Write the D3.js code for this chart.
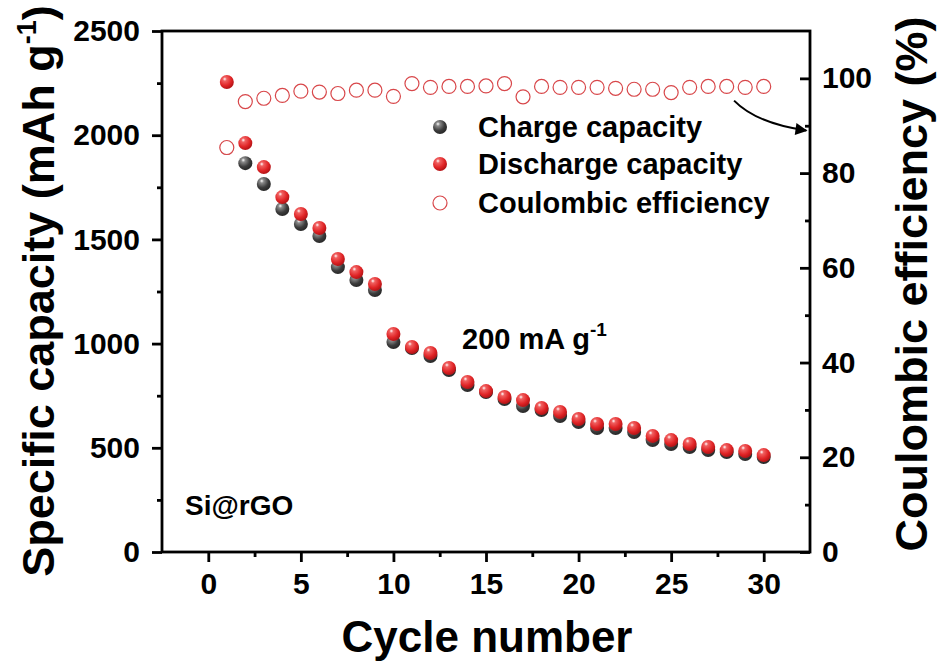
<!DOCTYPE html>
<html><head><meta charset="utf-8">
<script src="https://cdn.jsdelivr.net/npm/d3@7/dist/d3.min.js"></script>
<style>
body{margin:0;background:#fff;}
text{font-family:"Liberation Sans",Arial,sans-serif;font-weight:bold;fill:#000;}
</style></head>
<body><svg id="c" width="940" height="668"></svg>
<script>
const cycles = d3.range(1, 31);
const chargeCapacity = [1940,1866,1766,1646,1574,1516,1367,1305,1257,1008,979,940,873,801,768,734,700,681,652,624,595,595,576,537,518,504,489,480,470,456];
const dischargeCapacity = [2255,1962,1847,1703,1622,1555,1406,1343,1286,1046,984,955,883,816,772,744,729,691,672,638,614,614,595,557,537,518,504,489,485,465];
const coulombicEff = [85.4,95.1,95.8,96.4,97.3,97.1,96.8,97.5,97.5,96.2,98.9,98.1,98.3,98.3,98.4,98.9,96.1,98.3,98.1,98.1,98.1,97.9,97.7,97.7,97.0,98.1,98.3,98.3,98.1,98.3];
const xTicks = [0,5,10,15,20,25,30];
const xMinor = [2.5,7.5,12.5,17.5,22.5,27.5];
const yLeftTicks = [0,500,1000,1500,2000,2500];
const yLeftMinor = [250,750,1250,1750,2250];
const yRightTicks = [0,20,40,60,80,100];
const yRightMinor = [10,30,50,70,90];
const legendLabels = ["Charge capacity","Discharge capacity","Coulombic efficiency"];

const svg = d3.select("#c");
const L=162,R=810,T=31,B=552;
const x = d3.scaleLinear([-2.5,32.5],[L,R]);
const yL = d3.scaleLinear([0,2500],[B,T]);
const yR = d3.scaleLinear([0,110],[B,T]);

const defs = svg.append("defs");
function grad(id, c1, c2, c3){
  const g = defs.append("radialGradient").attr("id",id).attr("cx","38%").attr("cy","32%").attr("r","65%").attr("fx","35%").attr("fy","28%");
  g.append("stop").attr("offset","0%").attr("stop-color","#ffffff");
  g.append("stop").attr("offset","22%").attr("stop-color",c1);
  g.append("stop").attr("offset","70%").attr("stop-color",c2);
  g.append("stop").attr("offset","100%").attr("stop-color",c3);
}
grad("gBlack","#8a8a8a","#3c3c3c","#2a2a2a");
grad("gRed","#f06060","#e02426","#b81518");
const marker = defs.append("marker").attr("id","ah").attr("viewBox","0 0 10 10").attr("refX",9).attr("refY",5)
  .attr("markerWidth",7).attr("markerHeight",6).attr("orient","auto");
marker.append("path").attr("d","M0,0 L10,5 L0,10 z").attr("fill","#000");

// axes
const fs = "30px";
const fmt = d3.format("d");
const gl = svg.append("g").attr("transform",`translate(${L},0)`)
  .call(d3.axisLeft(yL).tickValues(yLeftTicks).tickSize(10).tickPadding(12).tickFormat(fmt));
gl.append("g").call(d3.axisLeft(yL).tickValues(yLeftMinor).tickSize(5).tickFormat(""));
const gb = svg.append("g").attr("transform",`translate(0,${B})`)
  .call(d3.axisBottom(x).tickValues(xTicks).tickSize(10).tickPadding(11).tickFormat(fmt));
gb.append("g").call(d3.axisBottom(x).tickValues(xMinor).tickSize(5).tickFormat(""));
const gr = svg.append("g").attr("transform",`translate(${R},0)`)
  .call(d3.axisRight(yR).tickValues(yRightTicks).tickSize(-10).tickPadding(12).tickFormat(fmt));
gr.append("g").call(d3.axisRight(yR).tickValues(yRightMinor).tickSize(-5).tickFormat(""));
svg.selectAll(".domain").remove();
svg.selectAll(".tick line").attr("stroke","#000").attr("stroke-width",2.8);
svg.selectAll(".tick text").style("font-size",fs).style("font-family","'Liberation Sans',Arial,sans-serif").style("font-weight","bold").attr("fill","#000");
svg.append("rect").attr("x",L).attr("y",T).attr("width",R-L).attr("height",B-T)
  .attr("fill","none").attr("stroke","#000").attr("stroke-width",2.8);

// titles
svg.append("text").attr("x",487).attr("y",652).attr("text-anchor","middle").style("font-size","44px").text("Cycle number");
const lt = svg.append("text").attr("transform","translate(54,291) rotate(-90)").attr("text-anchor","middle").style("font-size","45px");
lt.append("tspan").text("Specific capacity (mAh g");
lt.append("tspan").attr("dy",-18).style("font-size","27px").text("-1");
lt.append("tspan").attr("dy",18).text(")");
svg.append("text").attr("transform","translate(927,284) rotate(-90)").attr("text-anchor","middle").style("font-size","45px").text("Coulombic efficiency (%)");

// data
const r = 7;
svg.append("g").selectAll("circle").data(cycles).join("circle")
  .attr("cx",(d)=>x(d)).attr("cy",(d,i)=>yL(chargeCapacity[i])).attr("r",r).attr("fill","url(#gBlack)");
svg.append("g").selectAll("circle").data(cycles).join("circle")
  .attr("cx",(d)=>x(d)).attr("cy",(d,i)=>yL(dischargeCapacity[i])).attr("r",r).attr("fill","url(#gRed)");
svg.append("g").selectAll("circle").data(cycles).join("circle")
  .attr("cx",(d)=>x(d)).attr("cy",(d,i)=>yR(coulombicEff[i])).attr("r",r)
  .attr("fill","#fff").attr("stroke","#d8474a").attr("stroke-width",1.2);

// legend
const lx = 440, ly = [127,164,203];
const lg = svg.append("g");
lg.append("circle").attr("cx",lx).attr("cy",ly[0]).attr("r",r).attr("fill","url(#gBlack)");
lg.append("circle").attr("cx",lx).attr("cy",ly[1]).attr("r",r).attr("fill","url(#gRed)");
lg.append("circle").attr("cx",lx).attr("cy",ly[2]).attr("r",r).attr("fill","#fff").attr("stroke","#d8474a").attr("stroke-width",1.2);
legendLabels.forEach((t,i)=>{
  lg.append("text").attr("x",478).attr("y",ly[i]+10).style("font-size","29px").text(t);
});

// annotations
const ann = svg.append("text").attr("x",462).attr("y",349).style("font-size","29px");
ann.append("tspan").text("200 mA g");
ann.append("tspan").attr("dy",-13).style("font-size","19px").text("-1");
svg.append("text").attr("x",185).attr("y",515).style("font-size","28px").text("Si@rGO");

// arrow from CE series toward right axis
const p0=[x(28.4),yR(95.3)], p1=[x(29.6),yR(90.5)], p2=[x(32.3),yR(89.0)];
svg.append("path").attr("d",`M${p0[0]},${p0[1]} Q${p1[0]},${p1[1]} ${p2[0]},${p2[1]}`)
  .attr("fill","none").attr("stroke","#000").attr("stroke-width",2).attr("marker-end","url(#ah)");
</script></body></html>
